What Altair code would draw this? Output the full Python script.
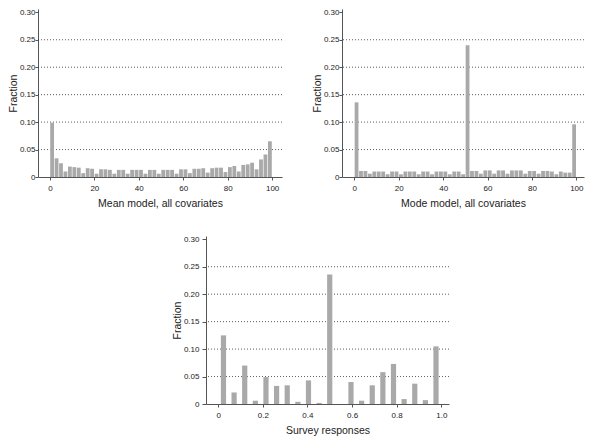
import altair as alt
import pandas as pd

# ---------------- data ----------------
bin_starts = list(range(0, 100, 2))  # 2-point bins, 0-100

mean_model = [
    0.099, 0.034, 0.025, 0.010, 0.019, 0.018, 0.017, 0.007, 0.016, 0.015,
    0.006, 0.014, 0.014, 0.013, 0.006, 0.013, 0.013, 0.006, 0.013, 0.013,
    0.013, 0.006, 0.013, 0.013, 0.006, 0.013, 0.013, 0.013, 0.006, 0.014,
    0.014, 0.007, 0.015, 0.015, 0.016, 0.008, 0.016, 0.017, 0.017, 0.009,
    0.018, 0.020, 0.010, 0.022, 0.023, 0.026, 0.014, 0.032, 0.041, 0.065,
]

mode_model = [
    0.136, 0.011, 0.011, 0.006, 0.010, 0.010, 0.010, 0.005, 0.010, 0.010,
    0.005, 0.010, 0.010, 0.010, 0.005, 0.010, 0.010, 0.005, 0.010, 0.010,
    0.010, 0.005, 0.010, 0.010, 0.005, 0.240, 0.011, 0.011, 0.006, 0.012,
    0.012, 0.006, 0.012, 0.012, 0.006, 0.012, 0.012, 0.012, 0.006, 0.011,
    0.011, 0.006, 0.011, 0.011, 0.010, 0.005, 0.010, 0.008, 0.008, 0.096,
]

# survey responses: 21 equal-width bins over [0, 1] (0, .05, ..., 1)
survey_bins = 21
survey_fraction = [0.125, 0.021, 0.070, 0.006, 0.049, 0.033, 0.034, 0.004, 0.043, 0.002,
                   0.236, 0.000, 0.040, 0.006, 0.034, 0.058, 0.073, 0.009, 0.037, 0.007, 0.105]

y_ticks = [0, 0.05, 0.10, 0.15, 0.20, 0.25, 0.30]
grid_levels = [0.05, 0.10, 0.15, 0.20, 0.25]
top_x_ticks = [0, 20, 40, 60, 80, 100]
bottom_x_ticks = [0, 0.2, 0.4, 0.6, 0.8, 1.0]

# ---------------- style ----------------
FONT = "Liberation Sans"
BAR = "#a9a9a9"
AXIS = "#555555"
TEXT = "#222222"
YDOM = [0, 0.306]
PH = 168


def panel(df, xdomain, xticks, xlabel_expr, xtitle, width, barsize, ytick=3, ylabpad=0):
    yscale = alt.Scale(domain=YDOM, nice=False, zero=True)
    xscale = alt.Scale(domain=xdomain, nice=False, zero=False)
    yaxis = alt.Axis(values=y_ticks, title="Fraction", grid=False, tickSize=ytick,
                     labelPadding=ylabpad,
                     labelExpr="datum.value == 0 ? '0' : format(datum.value, '.2f')")
    grid = alt.Chart(pd.DataFrame({"g": grid_levels})).mark_rule(
        color="#333333", strokeDash=[1, 2], strokeWidth=0.8
    ).encode(y=alt.Y("g:Q", scale=yscale, axis=yaxis, title="Fraction"))
    bars = alt.Chart(df).mark_bar(color=BAR, size=barsize, orient="vertical").encode(
        x=alt.X("x:Q", scale=xscale,
                axis=alt.Axis(values=xticks, title=xtitle, labelExpr=xlabel_expr, grid=False)),
        y=alt.Y("frac:Q", scale=yscale, axis=yaxis, title="Fraction"),
    )
    return alt.layer(grid, bars).properties(width=width, height=PH)


df_mean = pd.DataFrame({"x": [b + 1 for b in bin_starts], "frac": mean_model})
df_mode = pd.DataFrame({"x": [b + 1 for b in bin_starts], "frac": mode_model})
df_survey = pd.DataFrame({"x": [(k + 0.5) / survey_bins for k in range(survey_bins)],
                          "frac": survey_fraction})

top_expr = "format(datum.value, 'd')"
bot_expr = "datum.value == 0 ? '0' : format(datum.value, '.1f')"

tl = panel(df_mean, [-3.1, 102.2], top_x_ticks, top_expr, "Mean model, all covariates", 244, 3.8)
tr = panel(df_mode, [-3.3, 101.2], top_x_ticks, top_expr, "Mode model, all covariates", 242, 3.8)
bt = panel(df_survey, [-0.032, 1.012], bottom_x_ticks, bot_expr, "Survey responses", 243, 5.2,
           ytick=4, ylabpad=3)

spacer = alt.Chart(pd.DataFrame({"a": [0]})).mark_point(opacity=0).properties(width=134, height=10)

chart = alt.vconcat(
    alt.hconcat(tl, tr, spacing=29),
    alt.hconcat(spacer, bt, spacing=0),
    spacing=26,
).properties(
    padding={"left": 0, "top": 0, "right": 0, "bottom": 0}
).configure_view(stroke=None).configure_axis(
    domainColor=AXIS,
    tickColor=AXIS,
    tickSize=3,
    domainWidth=1,
    tickWidth=1,
    labelFont=FONT,
    titleFont=FONT,
    labelFontSize=8,
    titleFontSize=10.5,
    labelColor=TEXT,
    titleColor=TEXT,
    titleFontWeight="normal",
).configure_axisY(
    titlePadding=1,
).configure_axisX(
    labelPadding=4,
    titlePadding=6,
)

chart.save("out.html", embed_options={"renderer": "svg", "actions": False})
